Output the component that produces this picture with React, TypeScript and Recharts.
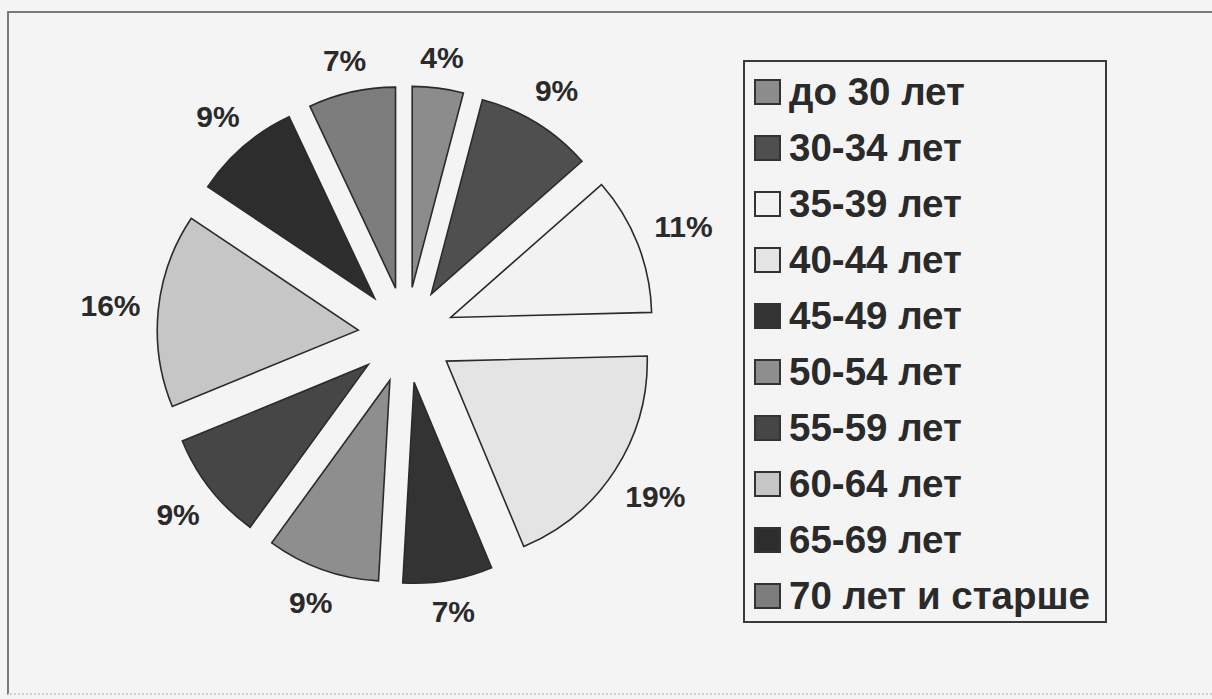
import React from 'react';
import { PieChart, Pie, Cell, Legend, Sector } from 'recharts';

const categories = [
  'до 30 лет',
  '30-34 лет',
  '35-39 лет',
  '40-44 лет',
  '45-49 лет',
  '50-54 лет',
  '55-59 лет',
  '60-64 лет',
  '65-69 лет',
  '70 лет и старше',
];
const shares = [4.1, 9.4, 11.1, 19.1, 7.2, 9.1, 8.8, 15.6, 8.6, 7.0];
const colors = [
  '#8c8c8c',
  '#4f4f4f',
  '#f2f2f2',
  '#e4e4e4',
  '#333333',
  '#8e8e8e',
  '#464646',
  '#c6c6c6',
  '#2d2d2d',
  '#7d7d7d',
];

const data = categories.map((name, i) => ({ name, value: shares[i] }));

const RAD = Math.PI / 180;
const EXPLODE = 48;
const LABEL_BASE = 266;
const LABEL_FONT = 30;
const FONT = '"Liberation Sans", Arial, Helvetica, sans-serif';
const BG = '#f4f4f4';

function renderSlice(props: any) {
  const { cx, cy, innerRadius, outerRadius, startAngle, endAngle, midAngle, percent, index } = props;
  const dx = Math.cos(-midAngle * RAD);
  const dy = Math.sin(-midAngle * RAD);
  const text = `${Math.round(percent * 100)}%`;
  const w = (text.length - 1) * 0.556 * LABEL_FONT + 0.889 * LABEL_FONT;
  const h = 22;
  const ext = (w / 2) * Math.abs(dx) + (h / 2) * Math.abs(dy);
  const lr = LABEL_BASE + ext;
  return (
    <g key={`slice-${index}`}>
      <Sector
        cx={cx + EXPLODE * dx}
        cy={cy + EXPLODE * dy}
        innerRadius={innerRadius}
        outerRadius={outerRadius}
        startAngle={startAngle}
        endAngle={endAngle}
        fill={colors[index]}
        stroke="#2b2b2b"
        strokeWidth={1.6}
      />
      <text
        x={cx + lr * dx}
        y={cy + lr * dy}
        textAnchor="middle"
        dominantBaseline="central"
        style={{ fontFamily: FONT, fontWeight: 'bold', fontSize: LABEL_FONT }}
        fill="#2a2a2a"
      >
        {text}
      </text>
    </g>
  );
}

function renderLegend(props: any) {
  const payload = [...(props.payload || [])].sort(
    (a: any, b: any) => categories.indexOf(a.value) - categories.indexOf(b.value)
  );
  return (
    <div
      style={{
        width: 364,
        height: 563,
        boxSizing: 'border-box',
        border: '2px solid #3a3a3a',
        paddingTop: 2,
        paddingLeft: 9,
        background: BG,
      }}
    >
      {payload.map((entry: any) => {
        const idx = categories.indexOf(entry.value);
        return (
          <div key={entry.value} style={{ height: 56, display: 'flex', alignItems: 'center' }}>
            <span
              style={{
                display: 'inline-block',
                width: 27,
                height: 26,
                boxSizing: 'border-box',
                border: '2px solid #333',
                background: colors[idx],
                marginRight: 8,
                flex: 'none',
              }}
            />
            <span
              style={{
                fontFamily: FONT,
                fontWeight: 'bold',
                fontSize: 38.5,
                color: '#2a2a2a',
                lineHeight: '56px',
                whiteSpace: 'nowrap',
              }}
            >
              {entry.value}
            </span>
          </div>
        );
      })}
    </div>
  );
}

export default function App() {
  return (
    <div
      style={{
        position: 'absolute',
        left: 0,
        top: 0,
        width: 1212,
        height: 699,
        background: BG,
        overflow: 'hidden',
      }}
    >
      <div
        style={{
          position: 'absolute',
          left: 7,
          top: 11,
          width: 1210,
          height: 680,
          borderTop: '2px solid #7a7a7a',
          borderLeft: '2px solid #7a7a7a',
          borderBottom: '2px dotted #cfcfcf',
        }}
      />
      <div style={{ position: 'absolute', left: 0, top: 0 }}>
        <PieChart width={1212} height={699} margin={{ top: 0, right: 0, bottom: 0, left: 0 }}>
          <Pie
            data={data}
            dataKey="value"
            nameKey="name"
            cx={406}
            cy={335}
            outerRadius={201}
            startAngle={90}
            endAngle={-270}
            isAnimationActive={false}
            label={renderSlice}
            labelLine={false}
            stroke="none"
          >
            {data.map((d) => (
              <Cell key={d.name} fill="transparent" stroke="none" />
            ))}
          </Pie>
          <Legend
            layout="vertical"
            align="right"
            verticalAlign="top"
            width={364}
            height={563}
            itemSorter={(item: any) => categories.indexOf(item.value)}
            content={renderLegend}
            wrapperStyle={{ position: 'absolute', left: 743, top: 60, right: 'auto', width: 364, height: 563, margin: 0, padding: 0 }}
          />
        </PieChart>
      </div>
    </div>
  );
}
